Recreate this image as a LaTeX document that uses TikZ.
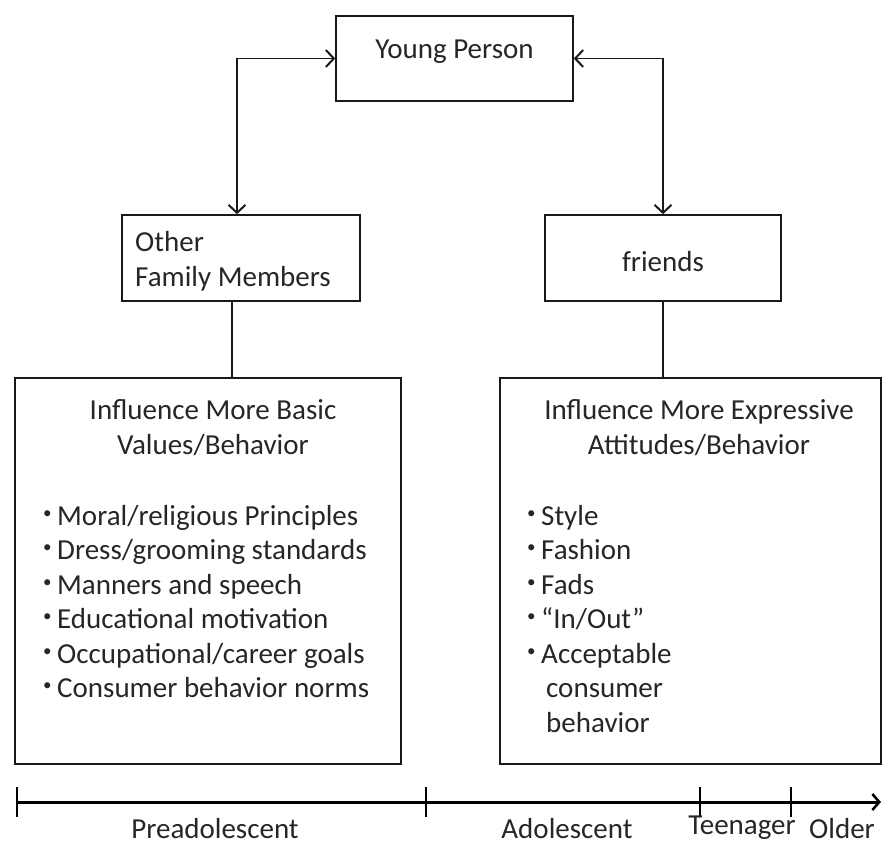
\documentclass[tikz,border=0pt]{standalone}
\usepackage{fontspec}
\setmainfont{Carlito}
\usetikzlibrary{arrows.meta}
\definecolor{ink}{HTML}{262626}
\begin{document}
\begin{tikzpicture}[x=1pt,y=-1pt,
  box/.style={draw=black!90, line width=1.6pt, inner sep=0pt},
  txt/.style={text=ink, font=\fontsize{29}{35}\selectfont, inner sep=0pt},
  bul/.style={text=ink, font=\fontsize{17}{20}\selectfont, inner sep=0pt, anchor=base west},
  conn/.style={draw=black!90, line width=1.6pt},
  barb/.tip={Straight Barb[length=8pt,width=17pt,line width=2pt]},
  bi/.style={conn, barb-barb},
  axis/.style={draw=black, line width=3pt},
  ]
\useasboundingbox (0,0) rectangle (882,845);
% boxes
\node[box, minimum width=237pt, minimum height=85pt] (yp) at (454.5,58.5) {};
\node[box, minimum width=238pt, minimum height=86pt] (fam) at (241,258) {};
\node[box, minimum width=236pt, minimum height=86pt] (fr) at (663,258) {};
\node[box, minimum width=386pt, minimum height=386pt] (lb) at (208,571) {};
\node[box, minimum width=381pt, minimum height=386pt] (rb) at (690.5,571) {};
% box texts
\node[txt] (yptxt) at (454.5,52) {Young Person};
\node[txt, anchor=west, align=left] (famtxt) at (135,261) {Other\\Family Members};
\node[txt] (frtxt) at (663,262) {friends};
\node[txt, align=center] (lbtitle) at (213,428) {Influence More Basic\\Values/Behavior};
\node[txt, align=center] (rbtitle) at (699,428) {Influence More Expressive\\Attitudes/Behavior};
% bullets left
\foreach \t [count=\i] in {Moral/religious Principles,Dress/grooming standards,Manners and speech,Educational motivation,Occupational/career goals,Consumer behavior norms}{
  \node[bul] (lbul\i) at (43,{518+34.5*(\i-1)}) {•};
  \node[txt, anchor=base west] (lit\i) at (57,{525+34.5*(\i-1)}) {\t};
}
% bullets right
\foreach \t [count=\i] in {Style,Fashion,Fads,“In/Out”,Acceptable}{
  \node[bul] (rbul\i) at (527,{518+34.5*(\i-1)}) {•};
  \node[txt, anchor=base west] (rit\i) at (541,{525+34.5*(\i-1)}) {\t};
}
\node[txt, anchor=base west] (rit6) at (546,{525+34.5*5}) {consumer};
\node[txt, anchor=base west] (rit7) at (546,{525+34.5*6}) {behavior};
% connectors
\coordinate (lc) at (237,58.5);
\draw[bi] (yp.west) -- (lc) -- (lc |- fam.north);
\draw[bi] (yp.east) -| (fr.north);
\draw[conn] ([xshift=-9pt]fam.south) -- ([xshift=-9pt]fam.south |- lb.north);
\draw[conn] (fr.south) -- (fr.south |- rb.north);
% timeline
\coordinate (t0) at (17,802);
\coordinate (tend) at (881,802);
\draw[axis, -{Straight Barb[length=7pt,width=16pt,line width=2.5pt]}] (t0) -- (tend);
\foreach \x in {17,426,700,791}{
  \draw[draw=black, line width=2.5pt] (\x,787) -- (\x,817);
}
\node[txt] (pre) at (215,829) {Preadolescent};
\node[txt] (ado) at (567,829) {Adolescent};
\node[txt] (teen) at (742,828) {Teenager};
\node[txt] (old) at (842,829) {Older};
\end{tikzpicture}
\end{document}
